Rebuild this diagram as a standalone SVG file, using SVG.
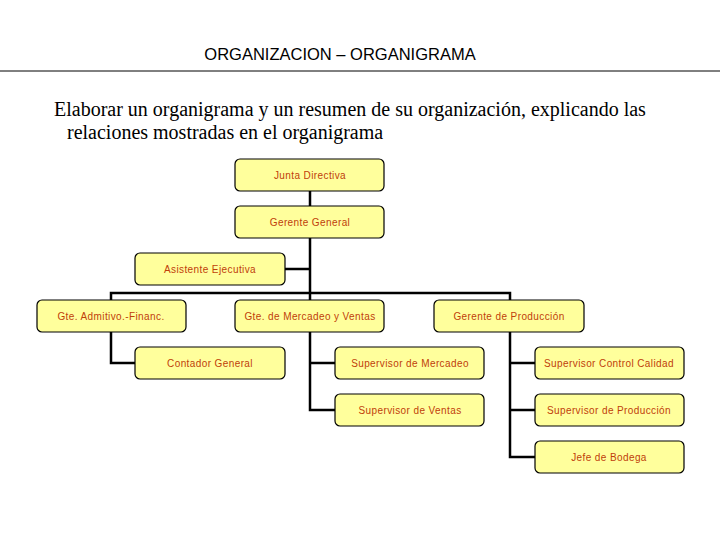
<svg xmlns="http://www.w3.org/2000/svg" width="720" height="540" viewBox="0 0 720 540">
<style>
.b{fill:#ffff9c;stroke:#000;stroke-width:1.2}
.t{font-family:"Liberation Sans",Arial,sans-serif;font-size:10px;fill:#c0400a;text-anchor:middle;letter-spacing:0.4px}
.c{fill:none;stroke:#000;stroke-width:2.5}
</style>
<rect width="720" height="540" fill="#fff"/>
<text x="340" y="60" font-family="Liberation Sans,Arial,sans-serif" font-size="16.5" text-anchor="middle">ORGANIZACION – ORGANIGRAMA</text>
<line x1="0" y1="71" x2="720" y2="71" stroke="#000" stroke-width="1"/>
<text font-family="Liberation Serif,Times New Roman,serif" font-size="20"><tspan x="54" y="116">Elaborar un organigrama y un resumen de su organización, explicando las</tspan><tspan x="67" y="139">relaciones mostradas en el organigrama</tspan></text>
<g id="connectors" class="c">
<path d="M310 191V300M285 269H310M111 300V293H510V300"/>
<path d="M111 332V363H135"/>
<path d="M310 332V410H335M310 363H335"/>
<path d="M510 332V457H535M510 363H535M510 410H535"/>
</g>
<g id="n1"><rect class="b" x="235" y="159" width="149" height="32" rx="5"/><text class="t" x="310" y="179">Junta Directiva</text></g>
<g id="n2"><rect class="b" x="235" y="206" width="149" height="32" rx="5"/><text class="t" x="310" y="226">Gerente General</text></g>
<g id="n3"><rect class="b" x="135" y="253" width="150" height="32" rx="5"/><text class="t" x="210" y="273">Asistente Ejecutiva</text></g>
<g id="n4"><rect class="b" x="37" y="300" width="149" height="32" rx="5"/><text class="t" x="111" y="320">Gte. Admitivo.-Financ.</text></g>
<g id="n5"><rect class="b" x="235" y="300" width="149" height="32" rx="5"/><text class="t" x="310" y="320">Gte. de Mercadeo y Ventas</text></g>
<g id="n6"><rect class="b" x="434" y="300" width="150" height="32" rx="5"/><text class="t" x="509" y="320">Gerente de Producción</text></g>
<g id="n7"><rect class="b" x="135" y="347" width="150" height="32" rx="5"/><text class="t" x="210" y="367">Contador General</text></g>
<g id="n8"><rect class="b" x="335" y="347" width="149" height="32" rx="5"/><text class="t" x="410" y="367">Supervisor de Mercadeo</text></g>
<g id="n9"><rect class="b" x="335" y="394" width="149" height="32" rx="5"/><text class="t" x="410" y="414">Supervisor de Ventas</text></g>
<g id="n10"><rect class="b" x="535" y="347" width="149" height="32" rx="5"/><text class="t" x="609" y="367">Supervisor Control Calidad</text></g>
<g id="n11"><rect class="b" x="535" y="394" width="149" height="32" rx="5"/><text class="t" x="609" y="414">Supervisor de Producción</text></g>
<g id="n12"><rect class="b" x="535" y="441" width="149" height="32" rx="5"/><text class="t" x="609" y="461">Jefe de Bodega</text></g>
</svg>
